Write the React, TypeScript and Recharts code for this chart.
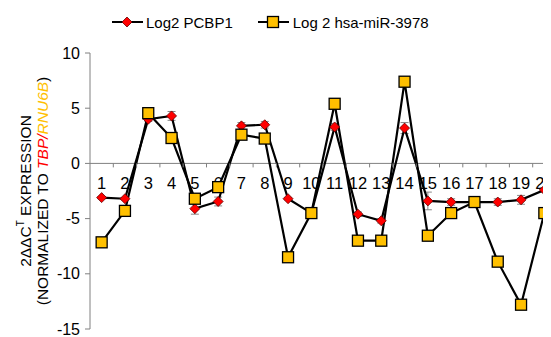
import React from "react";
import {
  ComposedChart,
  Line,
  XAxis,
  YAxis,
  Scatter,
  ReferenceLine,
  ErrorBar,
} from "recharts";

const categories = [1, 2, 3, 4, 5, 6, 7, 8, 9, 10, 11, 12, 13, 14, 15, 16, 17, 18, 19, 20];
const pcbp1 = [-3.1, -3.2, 4.0, 4.3, -4.1, -3.45, 3.4, 3.5, -3.2, -4.5, 3.3, -4.6, -5.2, 3.2, -3.4, -3.5, -3.5, -3.5, -3.3, -2.4];
const pcbp1Err = [0.1, 0.1, 0.2, 0.4, 0.5, 0.4, 0.3, 0.3, 0.1, 0.1, 0.3, 0.2, 0.2, 0.5, 0.8, 0.3, 0.2, 0.3, 0.4, 0.2];
const mir3978 = [-7.15, -4.3, 4.55, 2.3, -3.2, -2.15, 2.6, 2.25, -8.5, -4.5, 5.4, -7.0, -7.0, 7.4, -6.55, -4.5, -3.5, -8.9, -12.8, -4.5];
const yTicks = [-15, -10, -5, 0, 5, 10];
const seriesNames = ["Log2 PCBP1", "Log 2 hsa-miR-3978"];

const data = categories.map((c, i) => ({
  x: c,
  pcbp1: pcbp1[i],
  pcbp1Err: pcbp1Err[i],
  mir: mir3978[i],
}));
const labelPoints = categories.map((c) => ({ x: c, y: 0, label: String(c) }));
const tickPoints = categories.map((c) => ({ x: c + 0.5, y: 0 }));

const FONT = "'Liberation Sans', Arial, sans-serif";
const RED = "#ff0000";
const YELLOW = "#ffc000";

const Diamond = (props: any) => {
  const { cx, cy } = props;
  if (cx == null || cy == null) return null;
  const r = 5;
  return (
    <path
      d={`M${cx},${cy - r} L${cx + r},${cy} L${cx},${cy + r} L${cx - r},${cy} Z`}
      fill={RED}
      stroke="#600"
      strokeWidth={0.8}
    />
  );
};

const Square = (props: any) => {
  const { cx, cy } = props;
  if (cx == null || cy == null) return null;
  const s = 11;
  return (
    <rect x={cx - s / 2} y={cy - s / 2} width={s} height={s} fill={YELLOW} stroke="#000" strokeWidth={1.3} />
  );
};

const LabelShape = (props: any) => {
  const { cx, cy, payload } = props;
  return (
    <text x={cx} y={cy + 20} textAnchor="middle" dominantBaseline="central" fontSize={16.5} fontFamily={FONT} fill="#000">
      {payload.label}
    </text>
  );
};

const TickShape = (props: any) => {
  const { cx, cy } = props;
  return <line x1={cx} x2={cx} y1={cy} y2={cy + 4} stroke="#808080" strokeWidth={1} />;
};

const YLabel = (props: any) => {
  const vb = props.viewBox || {};
  const cy = vb.y + vb.height / 2;
  const x1 = vb.x + 17;
  const x2 = vb.x + 34;
  return (
    <g fontFamily={FONT} fontSize={15.5}>
      <text x={x1} y={cy} textAnchor="middle" dominantBaseline="central" transform={`rotate(-90 ${x1} ${cy})`} fill="#000">
        2ΔΔC<tspan fontSize={10} dy={-5}>T</tspan>
        <tspan dy={5}> EXPRESSION</tspan>
      </text>
      <text x={x2} y={cy} textAnchor="middle" dominantBaseline="central" transform={`rotate(-90 ${x2} ${cy})`} fill="#000">
        (NORMALIZED TO <tspan fill={RED} fontStyle="italic">TBP/</tspan>
        <tspan fill={YELLOW} fontStyle="italic">RNU6B</tspan>)
      </text>
    </g>
  );
};

const LegendBox = () => (
  <div
    style={{
      position: "absolute",
      left: 104,
      top: 4,
      display: "flex",
      alignItems: "center",
      fontFamily: FONT,
      fontSize: 15,
      color: "#000",
      whiteSpace: "nowrap",
    }}
  >
    <svg width={32} height={20}>
      <line x1={0} x2={31} y1={10} y2={10} stroke="#000" strokeWidth={2} />
      <Diamond cx={15} cy={10} />
    </svg>
    <span style={{ marginLeft: 2 }}>{seriesNames[0]}</span>
    <svg width={32} height={20} style={{ marginLeft: 25 }}>
      <line x1={0} x2={31} y1={10} y2={10} stroke="#000" strokeWidth={2} />
      <Square cx={15} cy={10} />
    </svg>
    <span style={{ marginLeft: 3 }}>{seriesNames[1]}</span>
  </div>
);

export default function App() {
  return (
    <div style={{ position: "relative", width: 543, height: 329, overflow: "hidden", background: "#fff" }}>
      <LegendBox />
      <ComposedChart
        width={560}
        height={329}
        data={data}
        margin={{ top: 45, right: 12, bottom: 8, left: 0 }}
      >
        <XAxis dataKey="x" type="number" domain={[0.5, 20.5]} hide height={0} allowDataOverflow />
        <YAxis
          type="number"
          domain={[-15, 10]}
          ticks={yTicks}
          width={82}
          stroke="#808080"
          tickSize={5}
          tick={{ fill: "#000", fontSize: 16, fontFamily: FONT }}
          tickMargin={5}
          interval={0}
          label={<YLabel />}
        />
        <ReferenceLine y={0} stroke="#808080" strokeWidth={1} />
        <Scatter data={tickPoints} dataKey="y" shape={<TickShape />} isAnimationActive={false} />
        <Scatter data={labelPoints} dataKey="y" shape={<LabelShape />} isAnimationActive={false} />
        <Line
          dataKey="pcbp1"
          stroke="#000"
          strokeWidth={2.2}
          dot={<Diamond />}
          activeDot={false}
          isAnimationActive={false}
        >
          <ErrorBar dataKey="pcbp1Err" direction="y" stroke="#888" width={4} strokeWidth={1} />
        </Line>
        <Line
          dataKey="mir"
          stroke="#000"
          strokeWidth={2.2}
          dot={<Square />}
          activeDot={false}
          isAnimationActive={false}
        />
      </ComposedChart>
    </div>
  );
}
